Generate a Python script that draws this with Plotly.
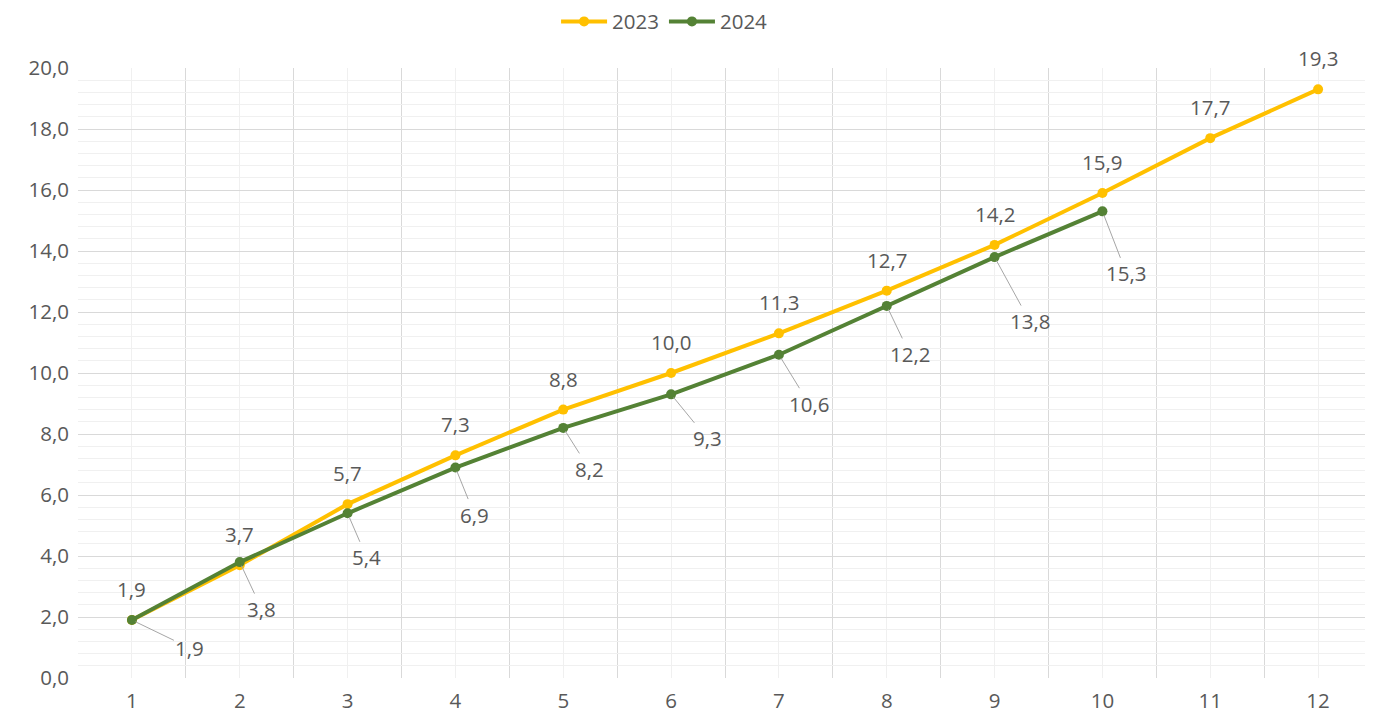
import plotly.graph_objects as go

months = list(range(1, 13))
values_2023 = [1.9, 3.7, 5.7, 7.3, 8.8, 10.0, 11.3, 12.7, 14.2, 15.9, 17.7, 19.3]
values_2024 = [1.9, 3.8, 5.4, 6.9, 8.2, 9.3, 10.6, 12.2, 13.8, 15.3]
# label offsets (px) for 2024 leader-line labels
off_x_2024 = [58, 22, 19, 19, 26, 36, 30, 23, 35, 24]
off_y_2024 = [28, 47, 44, 47, 41, 44, 49, 48, 64, 62]

C23 = "#FFC000"
C24 = "#548235"
TXT = "#595959"
FONT = "Open Sans"
FS = 20.5

def fmt(v):
    return f"{v:.1f}".replace(".", ",")

fig = go.Figure()
fig.add_trace(go.Scatter(x=months, y=values_2023, name="2023", mode="lines+markers",
                         line=dict(color=C23, width=4), marker=dict(size=10, color=C23)))
fig.add_trace(go.Scatter(x=months[:len(values_2024)], y=values_2024, name="2024", mode="lines+markers",
                         line=dict(color=C24, width=4), marker=dict(size=10, color=C24)))

ann = []
for m, v in zip(months, values_2023):
    ann.append(dict(x=m, y=v, text=fmt(v), showarrow=False, yshift=31,
                    font=dict(family=FONT, size=FS, color=TXT)))
for m, v, ox, oy in zip(months, values_2024, off_x_2024, off_y_2024):
    ann.append(dict(x=m, y=v, text=fmt(v), showarrow=True, arrowhead=0, arrowwidth=1,
                    arrowcolor="#A6A6A6", ax=ox, ay=oy, standoff=4,
                    font=dict(family=FONT, size=FS, color=TXT)))

fig.update_layout(
    width=1365, height=714,
    margin=dict(l=70, r=1, t=60, b=44),
    plot_bgcolor="white", paper_bgcolor="white",
    separators=",.",
    font=dict(family=FONT, size=FS, color=TXT),
    showlegend=True,
    legend=dict(orientation="h", xref="container", yref="container", x=0.481, y=0.981,
                xanchor="center", yanchor="middle", font=dict(size=FS, color=TXT),
                itemwidth=46),
    annotations=ann,
    xaxis=dict(range=[0.5, 12.5], tickvals=months, ticktext=[str(m) for m in months],
               showgrid=True, gridcolor="#F0F0F0", gridwidth=1, zeroline=False,
               showline=False, ticks="", ticklabelstandoff=8,
               minor=dict(tickvals=[i + 0.5 for i in range(0, 13)], showgrid=True,
                          gridcolor="#D9D9D9", gridwidth=1, ticks="")),
    yaxis=dict(range=[0, 20], dtick=2, tick0=0, tickformat=".1f", showgrid=True,
               gridcolor="#D9D9D9", gridwidth=1, zeroline=False, showline=False, ticks="",
               ticklabelstandoff=8,
               minor=dict(dtick=0.4, tick0=0, showgrid=True, gridcolor="#F0F0F0",
                          gridwidth=1, ticks="")),
)

fig.write_html("out.html")
